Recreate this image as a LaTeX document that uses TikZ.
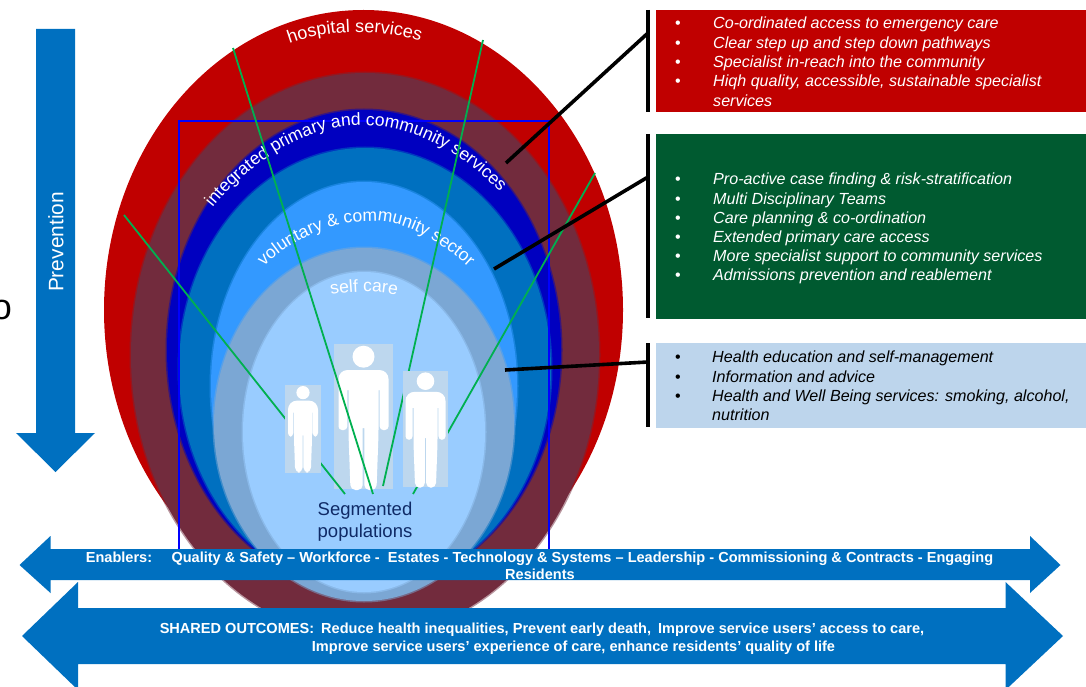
\documentclass[tikz,border=0pt]{standalone}
\usepackage{fontspec}
\setmainfont{Liberation Sans}
\usetikzlibrary{calc,positioning,decorations.text}

\definecolor{hospred}{HTML}{C00000}
\definecolor{maroon}{HTML}{722B3D}
\definecolor{deepblue}{HTML}{0000C0}
\definecolor{midblue}{HTML}{0070C0}
\definecolor{brightblue}{HTML}{3399FF}
\definecolor{steelblue}{HTML}{7BA7D4}
\definecolor{paleblue}{HTML}{99CCFF}
\definecolor{panelgreen}{HTML}{005A30}
\definecolor{panelblue}{HTML}{BDD5EC}
\definecolor{figbox}{HTML}{BDD7EE}
\definecolor{spoke}{HTML}{00B050}
\definecolor{navy}{HTML}{0F2A66}

\tikzset{
  ring/.style={draw=#1,draw opacity=.5,line width=3pt,fill=#1},
  panel/.style={fill=#1,inner sep=0pt,anchor=north west},
  leader/.style={line width=3.6pt,black},
  spokeline/.style={line width=1.8pt,spoke},
  figurebox/.style={fill=figbox,inner sep=0pt,anchor=north west},
  itemtext/.style={anchor=base west,inner sep=0pt,font=\fontsize{16.1}{19}\selectfont\itshape},
  itemdot/.style={anchor=base,inner sep=0pt,font=\fontsize{16.1}{19}\selectfont},
  bartext/.style={white,anchor=base,inner sep=0pt,font=\fontsize{14.55}{17}\selectfont\bfseries},
  curved/.style={decorate,decoration={text along path,text align=center,text={#1}}},
  person/.pic={
    \fill[white] (0,12.7) circle (11);
    \fill[white,rounded corners=9pt] (-25,60) -- (-25,26) -- (25,26) -- (25,60)
      [rounded corners=3.5pt] -- (25,86) -- (16.2,86) [sharp corners] -- (16.2,46) -- (15,46)
      [rounded corners=5pt] -- (15,90) -- (13,146) -- (.8,146) [sharp corners] -- (.8,84) -- (-.8,84)
      [rounded corners=5pt] -- (-.8,146) -- (-13,146) -- (-15,90) [sharp corners] -- (-15,46) -- (-16.2,46)
      [rounded corners=3.5pt] -- (-16.2,86) -- (-25,86) -- cycle;
  }
}

\begin{document}
\begin{tikzpicture}[x=1pt,y=-1pt]
    \useasboundingbox (0,0) rectangle (1086,687);

    % the rings
    \fill[hospred] (363.5,310) ellipse [x radius=259.5,y radius=300];
    \path[ring=maroon] (365,355) ellipse [x radius=234,y radius=282];
    \path[ring=deepblue] (364,350) ellipse [x radius=197,y radius=240];
    \path[ring=midblue] (365,369) ellipse [x radius=186,y radius=221];
    \path[ring=brightblue] (364,386) ellipse [x radius=153,y radius=204];
    \path[ring=steelblue] (364,424.5) ellipse [x radius=150,y radius=176.5];
    \path[ring=paleblue] (364,432) ellipse [x radius=121,y radius=160];

    \draw[blue,line width=1.5pt] (179,560) -- (179,121) -- (549,121) -- (549,560);

    % ring labels
    \path[curved={|\fontsize{18}{18}\selectfont\color{white}|hospital services}]
        (270,52) .. controls (320,26) and (390,26) .. (440,49);
    \path[curved={|\fontsize{17.5}{18}\selectfont\color{white}|integrated primary and community services}]
        (200,225) .. controls (230,179) and (295,125) .. (360,125) .. controls (425,125) and (480,166) .. (514,208);
    \path[curved={|\fontsize{17.5}{18}\selectfont\color{white}|voluntary {\&} community sector}]
        (250,283) .. controls (275,247) and (325,221) .. (372,221) .. controls (415,221) and (455,252) .. (484,282);
    \path[curved={|\fontsize{17.5}{18}\selectfont\color{white}|self care}]
        (315,300) .. controls (340,289) and (388,289) .. (413,300);

    % segmented populations
    \coordinate (top-a) at (124,215);
    \coordinate (top-b) at (233,48);
    \coordinate (top-c) at (483,40);
    \coordinate (top-d) at (595,173);
    \coordinate (seg-a) at (345,494);
    \coordinate (seg-b) at (373,494);
    \coordinate (seg-c) at (383,486);
    \coordinate (seg-d) at (413,494);

    \node[figurebox,minimum width=59pt,minimum height=145pt] (fig-adult) at (334,344) {};
    \pic at (363.5,344) {person};
    \draw[spokeline] (top-a) -- (seg-a);
    \draw[spokeline] (top-b) -- (seg-b);
    \draw[spokeline] (top-c) -- (seg-c);
    \draw[spokeline] (top-d) -- (seg-d);
    \node[figurebox,minimum width=36pt,minimum height=88pt] (fig-child) at (285,385) {};
    \pic[scale=.6] at (303,385) {person};
    \node[figurebox,minimum width=45pt,minimum height=116pt] (fig-teen) at (403,371) {};
    \pic[scale=.8] at (425.5,371) {person};

    \node[navy,align=center,font=\fontsize{18.5}{22}\selectfont] (seg) at (365,522) {Segmented\\populations};

    % prevention arrow
    \fill[midblue] (36,29) -- (75,29) -- (75,433) -- (95,433) -- (55.5,472) -- (16,433) -- (36,433) -- cycle;
    \node[white,rotate=90,inner sep=0pt,font=\fontsize{20.9}{21}\selectfont] (prev) at (56,242) {Prevention};
    \node[inner sep=0pt,font=\fontsize{36}{36}\selectfont] (cut) at (2,310) {o};

    % panels
    \node[panel=hospred,minimum width=430pt,minimum height=102pt] (red) at (656,10) {};
    \node[panel=panelgreen,minimum width=430pt,minimum height=185pt] (green) at (656,134) {};
    \node[panel=panelblue,minimum width=430pt,minimum height=85pt] (pale) at (656,343) {};

    \foreach \i/\ypos/\txt in {1/29/{Co-ordinated access to emergency care},2/48.3/{Clear step up and step down pathways},
        3/67.3/{Specialist in-reach into the community},4/86.3/{Hiqh quality, accessible, sustainable specialist}}{
      \node[itemdot,white] (red-dot-\i) at (678,\ypos) {•};
      \node[itemtext,white] (red-\i) at (713,\ypos) {\txt};
    }
    \node[itemtext,white] (red-5) at (713,106.3) {services};

    \foreach \i/\ypos/\txt in {1/184.3/{Pro-active case finding \& risk-stratification},2/204.3/{Multi Disciplinary Teams},
        3/223.3/{Care planning \& co-ordination},4/242.3/{Extended primary care access},
        5/261.3/{More specialist support to community services},6/280.3/{Admissions prevention and reablement}}{
      \node[itemdot,white] (green-dot-\i) at (678,\ypos) {•};
      \node[itemtext,white] (green-\i) at (713,\ypos) {\txt};
    }

    \foreach \i/\ypos/\txt in {1/362.3/{Health education and self-management},2/382.3/{Information and advice},
        3/401.3/{Health and Well Being services: smoking, alcohol,}}{
      \node[itemdot,black] (pale-dot-\i) at (678,\ypos) {•};
      \node[itemtext,black] (pale-\i) at (712,\ypos) {\txt};
    }
    \node[itemtext,black] (pale-4) at (712,420.3) {nutrition};

    % brackets and leaders
    \coordinate (ring-red) at (506,163);
    \coordinate (ring-green) at (494,269);
    \coordinate (ring-pale) at (505,370);
    \coordinate (bar-red) at (648,33);
    \coordinate (bar-green) at (648,177);
    \coordinate (bar-pale) at (648,362);
    \draw[leader] (648,10) -- (648,112);
    \draw[leader] (648,134) -- (648,318);
    \draw[leader] (648,343) -- (648,427);
    \draw[leader] (ring-red) -- (bar-red);
    \draw[leader] (ring-green) -- (bar-green);
    \draw[leader] (ring-pale) -- (bar-pale);

    % enablers and outcomes
    \fill[midblue] (19.5,565) -- (50.5,536) -- (50.5,549) -- (1030,549) -- (1030,536) -- (1060.5,565)
        -- (1030,593) -- (1030,580) -- (50.5,580) -- (50.5,593) -- cycle;
    \fill[midblue] (22,636) -- (78,582) -- (78,608) -- (1005.5,608) -- (1005.5,582) -- (1063,636)
        -- (1005.5,690) -- (1005.5,664) -- (78,664) -- (78,690) -- cycle;
    \node[bartext] (enablers) at (539.5,562) {Enablers:\hspace{14pt} Quality \& Safety – Workforce -\hspace{4pt} Estates - Technology \& Systems – Leadership - Commissioning \& Contracts - Engaging};
    \node[bartext] (residents) at (540,579) {Residents};
    \node[bartext] (outcomes-1) at (542,633) {SHARED OUTCOMES:\hspace{3pt} Reduce health inequalities, Prevent early death,\hspace{3pt} Improve service users’ access to care,};
    \node[bartext] (outcomes-2) at (573.5,651.5) {Improve service users’ experience of care, enhance residents’ quality of life};

\end{tikzpicture}
\end{document}
